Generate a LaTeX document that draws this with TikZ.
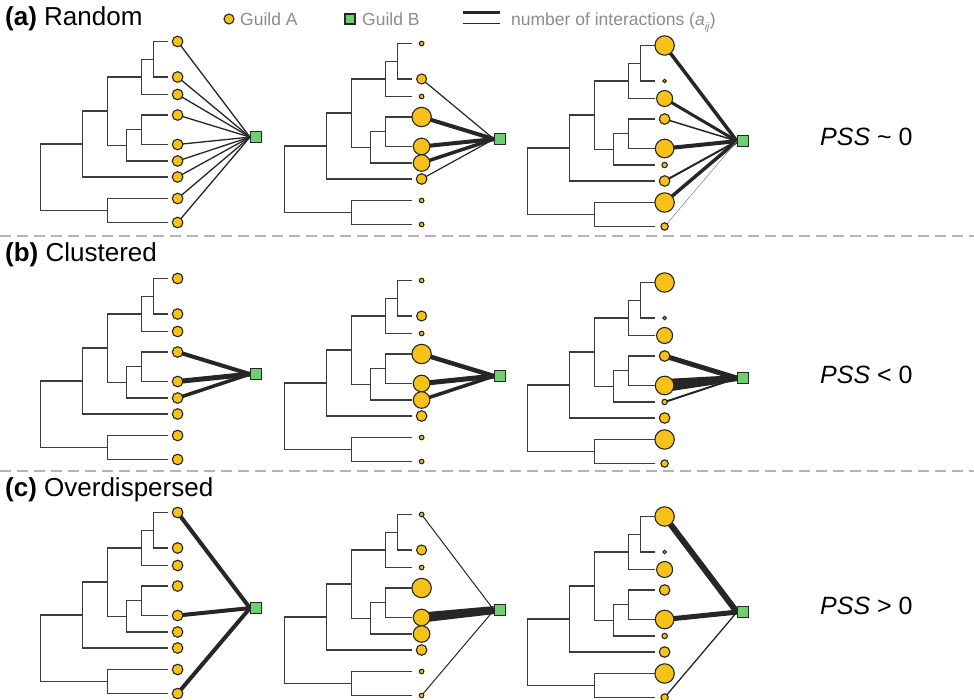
\documentclass[tikz,border=0pt]{standalone}
\usepackage{fontspec}
\setmainfont{Liberation Sans}
\usetikzlibrary{calc,backgrounds}
\definecolor{gold}{HTML}{F6C21A}
\definecolor{grn}{HTML}{6DCF72}
\definecolor{ink}{HTML}{262626}
\definecolor{lgray}{HTML}{8C8C8C}
\definecolor{dgray}{HTML}{B4B4B4}
\tikzset{
  branch/.style={draw=ink!90,line width=1.4pt,line join=miter},
  spp/.style={circle,draw=ink,fill=gold,line width=1.1pt,inner sep=0pt,minimum size=#1},
  guildb/.style={rectangle,draw=ink,fill=grn,line width=1.1pt,inner sep=0pt,minimum size=#1},
  link/.style={draw=ink,line width=#1},
  sepline/.style={draw=dgray,line width=1.2pt,dash pattern=on 11pt off 6pt},
  paneltitle/.style={anchor=base west,inner sep=0pt,font=\fontsize{26}{30}\selectfont},
  psslabel/.style={anchor=base west,inner sep=0pt,font=\fontsize{25}{30}\selectfont},
  legtext/.style={anchor=base west,inner sep=0pt,text=lgray,font=\fontsize{17.5}{20}\selectfont},
}
\newcommand\phylo[4]{%
 \begin{scope}[shift={(#2,#3)}]
  \draw[branch] (127.5,0) -- (113.5,0) -- (113.5,35.5) -- (127.5,35.5);
  \draw[branch] (113.5,17.75) -- (101.5,17.75) -- (101.5,53) -- (127.5,53);
  \draw[branch] (127.5,73.5) -- (101.5,73.5) -- (101.5,103) -- (127.5,103);
  \draw[branch] (101.5,88.25) -- (86.5,88.25) -- (86.5,119.5) -- (127.5,119.5);
  \draw[branch] (101.5,35.4) -- (67.5,35.4) -- (67.5,103.9) -- (86.5,103.9);
  \draw[branch] (67.5,69.65) -- (42.5,69.65) -- (42.5,135.5) -- (127.5,135.5);
  \draw[branch] (127.5,157) -- (67.5,157) -- (67.5,181) -- (127.5,181);
  \draw[branch] (42.5,102.6) -- (0.5,102.6) -- (0.5,169) -- (67.5,169);
  \foreach \r [count=\i] in #4 {
    \pgfmathsetmacro\ty{{0,35.5,53,73.5,103,119.5,135.5,157,181}[\i-1]}
    \pgfmathsetmacro\dd{2*\r}
    \node[spp=\dd pt] (#1-\i) at (137.6,\ty) {};
  }
  \node[guildb=11pt] (#1-sq) at (216,95.6) {};
 \end{scope}}
\newcommand\lk[3]{\draw[link=#3] (#1-#2.center) -- (#1-sq.west);}
\newcommand\wedgelk[4]{\fill[ink] ($(#1-#2.center)!#3!90:(#1-sq.west)$) -- ($(#1-#2.center)!#3!-90:(#1-sq.west)$) -- ($(#1-sq.west)!#4!90:(#1-#2.center)$) -- ($(#1-sq.west)!#4!-90:(#1-#2.center)$) -- cycle;}
\begin{document}
\begin{tikzpicture}[x=1pt,y=-1pt]
\useasboundingbox (0,0) rectangle (974,700);
% legend
\node[spp=10pt] (legA) at (229,19) {};
\node[legtext] (legAt) at (240,26) {Guild A};
\node[guildb=10pt] (legB) at (350,19) {};
\node[legtext] (legBt) at (362,26) {Guild B};
\coordinate (lw1) at (463,13); \coordinate (lw2) at (500,13);
\coordinate (ln1) at (463,24); \coordinate (ln2) at (500,24);
\draw[link=3pt] (lw1) -- (lw2);
\draw[link=1pt] (ln1) -- (ln2);
\node[legtext] (legL) at (511,26) {number of interactions (\textit{a}\raisebox{-0.45ex}{\fontsize{11}{12}\selectfont\textit{ij}})};
% titles
\node[paneltitle] (ta) at (5,26) {\textbf{(a)} Random};
\node[paneltitle] (tb) at (5,262) {\textbf{(b)} Clustered};
\node[paneltitle] (tc) at (5,496) {\textbf{(c)} Overdispersed};
\node[psslabel] (pa) at (820,146) {\textit{PSS} \textasciitilde{} 0};
\node[psslabel] (pb) at (820,383) {\textit{PSS} < 0};
\node[psslabel] (pc) at (820,614) {\textit{PSS} > 0};
% separators
\coordinate (s1a) at (0,236); \coordinate (s1b) at (974,236);
\coordinate (s2a) at (0,471); \coordinate (s2b) at (974,471);
\draw[sepline] (s1a) -- (s1b);
\draw[sepline] (s2a) -- (s2b);
% panels
\def\rA{5.3,5.3,5.3,5.3,5.3,5.3,5.3,5.3,5.3}
\def\rB{2.3,5,2.3,9.7,8.3,8.3,5.3,2.3,2.3}
\def\rC{9.7,1.7,8,5.3,9.3,2.7,5.3,9.7,3.7}
\phylo{a1}{40}{41.5}{\rA}
\phylo{a2}{284}{43.5}{\rB}
\phylo{a3}{527}{45.5}{\rC}
\phylo{b1}{40}{278.5}{\rA}
\phylo{b2}{284}{280.5}{\rB}
\phylo{b3}{527}{282.5}{\rC}
\phylo{c1}{40}{512.5}{\rA}
\phylo{c2}{284}{514.5}{\rB}
\phylo{c3}{527}{516.5}{\rC}
\begin{pgfonlayer}{background}
\fill[white] (0,0) rectangle (974,700);
% row a
\foreach \k in {1,...,9} {\lk{a1}{\k}{1.3pt}}
\lk{a2}{2}{1.2pt}\lk{a2}{4}{4pt}\lk{a2}{5}{4pt}\lk{a2}{6}{3.5pt}\lk{a2}{7}{1.2pt}
\lk{a3}{1}{3.5pt}\lk{a3}{3}{3pt}\lk{a3}{4}{1.5pt}\lk{a3}{5}{4pt}\lk{a3}{7}{2pt}\lk{a3}{8}{3.5pt}
\draw[draw=gray,line width=0.5pt] (a3-9.center) -- (a3-sq.west);
% row b
\lk{b1}{4}{4pt}\lk{b1}{5}{5pt}\lk{b1}{6}{3.5pt}
\lk{b2}{4}{4.5pt}\lk{b2}{5}{5pt}\lk{b2}{6}{3.5pt}
\lk{b3}{4}{5pt}\wedgelk{b3}{5}{6.5pt}{3pt}\lk{b3}{6}{2pt}
% row c
\lk{c1}{1}{4pt}\lk{c1}{5}{4pt}\lk{c1}{9}{4pt}
\lk{c2}{1}{1pt}\wedgelk{c2}{5}{5pt}{4pt}\lk{c2}{9}{1pt}
\lk{c3}{1}{6pt}\lk{c3}{5}{5pt}\lk{c3}{9}{1.3pt}
\end{pgfonlayer}
\end{tikzpicture}
\end{document}
